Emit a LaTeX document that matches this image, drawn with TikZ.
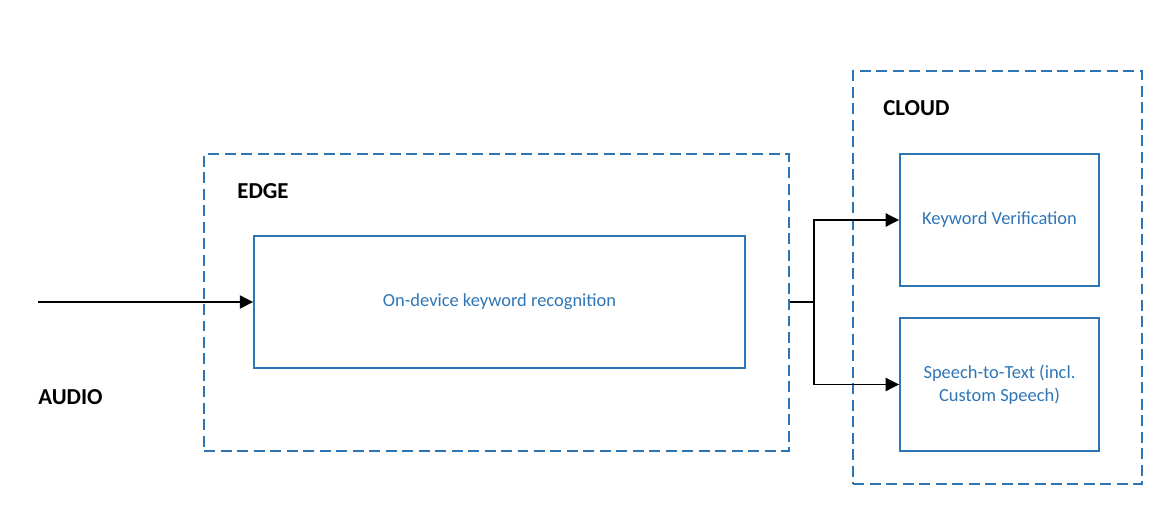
\documentclass[tikz,border=0pt]{standalone}
\usepackage{fontspec}
\setmainfont{Carlito}
\usetikzlibrary{arrows.meta,positioning}
\definecolor{msblue}{RGB}{46,117,182}

\begin{document}
\begin{tikzpicture}[
    x=0.02cm, y=-0.02cm,
    zone/.style={rectangle, draw=msblue, line width=0.9pt, dash pattern=on 0.22cm off 0.11cm, inner sep=0pt},
    block/.style={rectangle, draw=msblue, line width=0.9pt, text=msblue, align=center, font=\fontsize{10.5}{13}\selectfont, inner sep=0pt},
    title/.style={anchor=west, font=\fontsize{13}{15}\selectfont\bfseries, inner sep=0pt},
    arrow/.style={-{Triangle[length=0.27cm,width=0.26cm]}, line width=1.1pt}
]
    \useasboundingbox (0,0) rectangle (1170,524);

    % Bereiche
    \node[zone, minimum width=11.7cm, minimum height=5.94cm] (edge) at (496.5,302.5) {};
    \node[zone, minimum width=5.78cm, minimum height=8.26cm] (cloud) at (997.5,277.5) {};
    \node[title] (edgelbl) at (237,191) {EDGE};
    \node[title] (cloudlbl) at (883,108) {CLOUD};

    % Blöcke
    \node[block, minimum width=9.82cm, minimum height=2.64cm] (kwr) at (499.5,302) {On-device keyword recognition};
    \node[block, minimum width=3.98cm, minimum height=2.64cm] (kv) at (999.5,220) {Keyword Verification};
    \node[block, minimum width=3.98cm, minimum height=2.66cm] (stt) at (999.5,384.5) {Speech-to-Text (incl.\\Custom Speech)};

    % Eingang
    \coordinate (src) at (38,302);
    \node[title] (audio) at (38,397) {AUDIO};
    \draw[arrow] (src) -- (kwr.west);

    % Verzweigung zur Cloud
    \coordinate (split) at (814,302);
    \draw[line width=1.1pt] (edge.east |- kwr.east) -- (split);
    \draw[arrow] (split) |- (kv.west);
    \draw[arrow] (split) |- (stt.west);
\end{tikzpicture}
\end{document}
